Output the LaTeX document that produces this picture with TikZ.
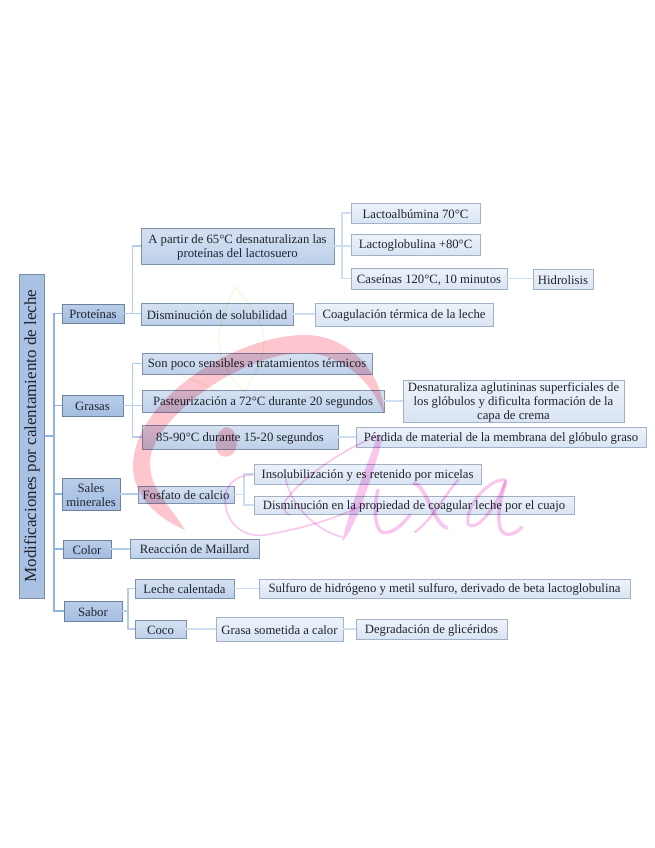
\documentclass[tikz,border=0pt]{standalone}
\usepackage{fontspec}
\setmainfont{Liberation Serif}
\usetikzlibrary{calc}
\definecolor{txt}{HTML}{20242E}
\definecolor{lineA}{HTML}{8FB4E3}
\definecolor{lineB}{HTML}{B4CDEB}
\definecolor{lineC}{HTML}{D0DEF1}
\tikzset{
  box/.style={rectangle,inner sep=0pt,outer sep=0pt,align=center,text=txt,
     font=\fontsize{12.7}{14}\selectfont},
  lvlroot/.style={box,draw=HTMLroot,line width=1pt,left color=HTMLrootA,right color=HTMLrootB,
     font=\fontsize{17}{19}\selectfont},
  lvlone/.style={box,draw=HTMLone,line width=1pt,top color=HTMLoneA,bottom color=HTMLoneB},
  lvltwo/.style={box,draw=HTMLtwo,line width=1pt,top color=HTMLtwoA,bottom color=HTMLtwoB},
  lvlthree/.style={box,draw=HTMLthree,line width=1pt,top color=HTMLthrA,bottom color=HTMLthrB},
  conA/.style={draw=lineA,line width=1.3pt},
  conB/.style={draw=lineB,line width=1.1pt},
  conC/.style={draw=lineC,line width=1.1pt},
  wmred/.style={fill=HTMLwmr,draw=none},
  wmfill/.style={fill=HTMLwmp,draw=none},
  wmpink/.style={draw=HTMLwmp,line cap=round,line join=round},
  wmleaf/.style={draw=HTMLwml,line width=1pt}
}
\definecolor{HTMLroot}{HTML}{7A8CA6}
\definecolor{HTMLrootA}{HTML}{A9C2E4}
\definecolor{HTMLrootB}{HTML}{A9C2E4}
\definecolor{HTMLone}{HTML}{6F809A}
\definecolor{HTMLoneA}{HTML}{B9CDE8}
\definecolor{HTMLoneB}{HTML}{A3BEE2}
\definecolor{HTMLtwo}{HTML}{8091AB}
\definecolor{HTMLtwoA}{HTML}{D6E2F2}
\definecolor{HTMLtwoB}{HTML}{BDD0EA}
\definecolor{HTMLthree}{HTML}{A3B1C6}
\definecolor{HTMLthrA}{HTML}{EEF3FA}
\definecolor{HTMLthrB}{HTML}{D9E4F3}
\definecolor{HTMLwmr}{HTML}{FDC6CE}
\definecolor{HTMLwmp}{HTML}{F9C6EE}
\definecolor{HTMLwml}{HTML}{F1F7D6}
% \bx{name}{style}{x1}{y1}{x2}{y2}{text}
\newcommand{\bx}[7]{%
  \pgfmathsetmacro{\bxw}{#5-#3}\pgfmathsetmacro{\bxh}{#6-#4}%
  \node[#2,minimum width=\bxw pt,minimum height=\bxh pt] (#1) at ({(#3+#5)/2},{(#4+#6)/2}) {\rule{0pt}{11pt}#7};}
\begin{document}
\begin{tikzpicture}[x=1pt,y=-1pt]
\useasboundingbox (0,0) rectangle (655,848);
% boxes
\node[lvlroot,rotate=90,minimum width=324pt,minimum height=25pt] (root) at (32,436) {Modificaciones por calentamiento de leche};
\bx{prot}{lvlone}{62}{304}{124}{323}{Proteínas}
\bx{gras}{lvlone}{62}{395}{123}{416}{Grasas}
\bx{sales}{lvlone}{62}{478}{120}{510}{Sales\\minerales}
\bx{color}{lvlone}{63}{540}{111}{558}{Color}
\bx{sabor}{lvlone}{64}{601}{122}{621}{Sabor}
\bx{apartir}{lvltwo}{141}{228}{334}{264}{A partir de 65°C desnaturalizan las\\proteínas del lactosuero}
\bx{dism}{lvltwo}{141}{303}{293}{325}{Disminución de solubilidad}
\bx{poco}{lvltwo}{142}{353}{372}{374}{Son poco sensibles a tratamientos térmicos}
\bx{past}{lvltwo}{142}{390}{384}{412}{Pasteurización a 72°C durante 20 segundos}
\bx{ochenta}{lvltwo}{142}{425}{338}{449}{85-90°C durante 15-20 segundos}
\bx{fosf}{lvltwo}{138}{486}{234}{503}{Fosfato de calcio}
\bx{maill}{lvltwo}{130}{539}{259}{558}{Reacción de Maillard}
\bx{lechec}{lvltwo}{135}{579}{234}{598}{Leche calentada}
\bx{coco}{lvltwo}{135}{620}{186}{638}{Coco}
\bx{lalb}{lvlthree}{351}{203}{480}{223}{Lactoalbúmina 70°C}
\bx{lglo}{lvlthree}{351}{234}{480}{255}{Lactoglobulina +80°C}
\bx{case}{lvlthree}{351}{268}{507}{289}{Caseínas 120°C, 10 minutos}
\bx{hidr}{lvlthree}{533}{269}{593}{289}{Hidrolisis}
\bx{coag}{lvlthree}{315}{303}{493}{326}{Coagulación térmica de la leche}
\bx{desn}{lvlthree}{403}{380}{624}{422}{Desnaturaliza aglutininas superficiales de\\los glóbulos y dificulta formación de la\\capa de crema}
\bx{perd}{lvlthree}{356}{427}{646}{447}{Pérdida de material de la membrana del glóbulo graso}
\bx{inso}{lvlthree}{254}{464}{481}{484}{Insolubilización y es retenido por micelas}
\bx{dprop}{lvlthree}{254}{496}{574}{514}{Disminución en la propiedad de coagular leche por el cuajo}
\bx{sulf}{lvlthree}{259}{579}{630}{598}{Sulfuro de hidrógeno y metil sulfuro, derivado de beta lactoglobulina}
\bx{grasa}{lvlthree}{216}{617}{343}{641}{Grasa sometida a calor}
\bx{degr}{lvlthree}{356}{619}{507}{639}{Degradación de glicéridos}
% connectors
\draw[conA] (root.south) -- (54,436) |- (prot.west);
\draw[conA] (root.south) -- (54,436) |- (gras.west);
\draw[conA] (root.south) -- (54,436) |- (sales.west);
\draw[conA] (root.south) -- (54,436) |- (color.west);
\draw[conA] (root.south) -- (54,436) |- (sabor.west);
\draw[conB] (prot.east) -- (132.5,313.5) |- (apartir.west);
\draw[conB] (prot.east) -- (prot.east -| dism.west);
\draw[conB] (gras.east) -- (132.5,405.5) |- (poco.west);
\draw[conB] (gras.east) -- (gras.east -| past.west);
\draw[conB] (gras.east) -- (132.5,405.5) |- (ochenta.west);
\draw[conB] (sales.east) -- (sales.east -| fosf.west);
\draw[conB] (color.east) -- (color.east -| maill.west);
\draw[conB] (sabor.east) -- (128,611) |- (lechec.west);
\draw[conB] (sabor.east) -- (128,611) |- (coco.west);
\draw[conC] (apartir.east) -- (342,246) |- (lalb.west);
\draw[conC] (apartir.east) -- (apartir.east -| lglo.west);
\draw[conC] (apartir.east) -- (342,246) |- (case.west);
\draw[conC] (case.east) -- (case.east -| hidr.west);
\draw[conC] (dism.east) -- (dism.east -| coag.west);
\draw[conC] (past.east) -- (past.east -| desn.west);
\draw[conC] (ochenta.east) -- (ochenta.east -| perd.west);
\draw[conC] (fosf.east) -- (244,494.5) |- (inso.west);
\draw[conC] (fosf.east) -- (244,494.5) |- (dprop.west);
\draw[conC] (lechec.east) -- (lechec.east -| sulf.west);
\draw[conC] (coco.east) -- (coco.east -| grasa.west);
\draw[conC] (grasa.east) -- (grasa.east -| degr.west);
% watermark, laid over everything
\begin{scope}[blend mode=multiply]
  % leaf
  \draw[wmleaf] (235,287) .. controls (225,310) and (215,335) .. (220,350) .. controls (222,365) and (235,385) .. (245,392);
  \draw[wmleaf] (235,287) .. controls (250,305) and (265,320) .. (264,345) .. controls (262,365) and (250,380) .. (245,392);
  \draw[wmleaf] (180,375) .. controls (195,380) and (205,385) .. (218,392);
  % swoosh C
  \fill[wmred] (384,415) .. controls (384,375) and (350,335) .. (305,335)
     .. controls (235,335) and (133,400) .. (133,467)
     .. controls (133,490) and (150,515) .. (185,530)
     .. controls (170,505) and (150,490) .. (150,463)
     .. controls (150,420) and (240,353) .. (303,353)
     .. controls (340,353) and (372,380) .. (384,415) -- cycle;
  % spoon
  \fill[wmred] (226,427) .. controls (236,428) and (238,440) .. (236,448)
     .. controls (234,456) and (226,459) .. (220,455)
     .. controls (213,448) and (214,432) .. (226,427) -- cycle;
  % Aixa: A stem as a tapered brush stroke
  \fill[wmfill] (378,433) .. controls (372,455) and (355,490) .. (342,541)
     .. controls (352,535) and (372,480) .. (382,440) -- cycle;
  % A, loop and cross strokes
  \draw[wmpink,line width=1.6pt] (378,436) .. controls (340,450) and (300,480) .. (286,500)
     .. controls (282,505) and (283,512) .. (290,515);
  \draw[wmpink,line width=1.6pt] (285,476) .. controls (290,505) and (315,530) .. (342,537);
  \draw[wmpink,line width=1.6pt] (252,475) .. controls (232,475) and (224,490) .. (225,500)
     .. controls (226,525) and (245,538) .. (265,535)
     .. controls (295,530) and (335,520) .. (367,503);
  % i
  \draw[wmpink,line width=3.4pt] (378,490) .. controls (374,505) and (374,525) .. (381,532) .. controls (392,535) and (402,525) .. (410,515);
  % x
  \draw[wmpink,line width=3.8pt] (414,483) .. controls (428,488) and (432,522) .. (447,528);
  \draw[wmpink,line width=2.4pt] (458,480) .. controls (445,495) and (430,522) .. (415,532);
  % a
  \draw[wmpink,line width=3pt] (505,480) .. controls (490,478) and (465,505) .. (468,524) .. controls (475,533) and (495,510) .. (505,483);
  \draw[wmpink,line width=3.4pt] (506,481) .. controls (500,500) and (497,515) .. (500,528) .. controls (504,538) and (515,535) .. (522,527);
\end{scope}
\end{tikzpicture}
\end{document}
